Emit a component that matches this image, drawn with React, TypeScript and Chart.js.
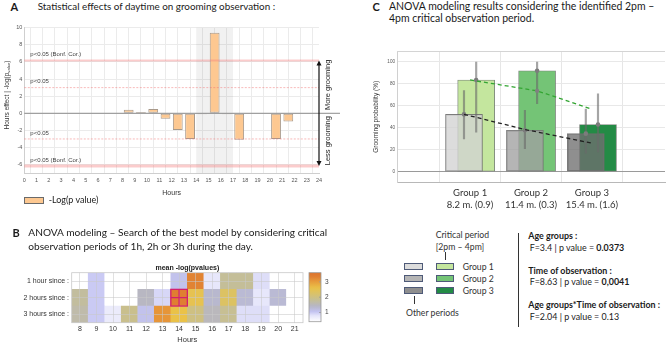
import React, { useEffect, useRef } from "react";
import { Chart, registerables } from "chart.js";

Chart.register(...registerables);

const SANS = '"Liberation Sans", Arial, sans-serif';
const TITLE = 'Lato, "Open Sans", sans-serif';

// ---------- A: hour-by-hour effect on grooming ----------
const effectHours = [8.5, 9.5, 10.5, 11.5, 12.5, 13.5, 14.5, 15.5, 16.5, 17.5, 18.5, 19.5, 20.5, 21.5];
const effectValues = [0.4, 0.15, 0.5, -0.65, -1.95, -3.0, -0.1, 9.4, -0.1, -3.1, 0, 0, -3.0, -0.95];
const hourTicks = [0, 1, 2, 3, 4, 5, 6, 7, 8, 9, 10, 11, 12, 13, 14, 15, 16, 17, 18, 19, 20, 21, 22, 23, 24];
const effectTicks = [-6, -4, -2, 0, 2, 4, 6, 8, 10];
const thresholdLevels = [3.0, 6.17];
const thresholdLabels = ["p<0.05", "p<0.05 (Bonf. Cor.)"];
const criticalWindow = [14, 17];

// ---------- B: mean -log(p) by window length and start hour ----------
const heatHours = ["8", "9", "10", "11", "12", "13", "14", "15", "16", "17", "18", "19", "20", "21"];
const heatRows = ["1 hour since :", "2 hours since :", "3 hours since :"];
const oneHour = [null, 1.0, null, null, null, null, 1.1, 3.3, 0.75, 1.8, 1.8, 0.85, null, null];
const twoHours = [1.75, 1.0, null, null, 1.45, 0.9, 3.35, 2.5, 1.35, 2.3, 1.3, 0.75, 1.3, null];
const threeHours = [1.65, 1.0, 0.7, 1.9, 1.1, 3.1, 2.6, 2.0, 1.5, 1.85, 0.85, 0.85, null, null];
const heatValues = [oneHour, twoHours, threeHours];
const highlightCell = { hour: "14", row: 1 };
const colorbarRange = [0.4, 3.6];
const colorbarTicks = [1, 2, 3];
const heatColorStops: [number, number[]][] = [
  [0.4, [255, 255, 255]],
  [0.8, [228, 228, 250]],
  [1.05, [196, 196, 242]],
  [1.4, [182, 182, 200]],
  [1.8, [196, 190, 152]],
  [2.2, [216, 194, 108]],
  [2.6, [234, 194, 72]],
  [3.0, [232, 158, 60]],
  [3.35, [224, 126, 50]],
  [3.6, [222, 116, 44]],
];

// ---------- C: grooming probability per age group ----------
const groupPositions = [1, 2, 3];
const groupNames = ["Group 1", "Group 2", "Group 3"];
const groupAges = ["8.2 m. (0.9)", "11.4 m. (0.3)", "15.4 m. (1.6)"];
const otherMeans = [52.3, 37.8, 34.7];
const otherLow = [30, 21, 17];
const otherHigh = [74, 56, 57];
const criticalMeans = [83.6, 92, 43];
const criticalLow = [36, 62, 18];
const criticalHigh = [100, 100, 71];
const otherTrendX = [0.9, 1.9, 3];
const otherTrendY = [52.3, 38.5, 26];
const criticalTrendX = [1, 2.1, 3];
const criticalTrendY = [83.6, 73.7, 57];
const probabilityTicks = [0, 20, 40, 60, 80, 100];
const barShift = 0.1;
const otherColors = ["rgba(210,210,210,0.78)", "rgba(160,160,160,0.78)", "rgba(112,112,112,0.78)"];
const criticalColors = ["#c4e69e", "#74c476", "#238b45"];

// ---------- helpers ----------
let measureCtx: CanvasRenderingContext2D | null = null;
function fit(text: string, width: number, weight = 400, family = TITLE) {
  if (!measureCtx) measureCtx = document.createElement("canvas").getContext("2d");
  measureCtx!.font = `${weight} 100px ${family}`;
  return (100 * width) / measureCtx!.measureText(text).width;
}

function heatColor(v: number | null): string {
  if (v == null) return "#ffffff";
  const s = heatColorStops;
  const rgb = (c: number[]) => `rgb(${c.map((n) => Math.round(n)).join(",")})`;
  if (v <= s[0][0]) return rgb(s[0][1]);
  for (let i = 1; i < s.length; i++) {
    if (v <= s[i][0]) {
      const t = (v - s[i - 1][0]) / (s[i][0] - s[i - 1][0]);
      return rgb(s[i - 1][1].map((c, k) => c + (s[i][1][k] - c) * t));
    }
  }
  return rgb(s[s.length - 1][1]);
}

function fixedTicks(values: number[]) {
  return (scale: any) => {
    scale.ticks = values.map((value) => ({ value }));
  };
}

// ---------- plugins ----------
const hourEffectOverlay = {
  id: "hourEffectOverlay",
  beforeDatasetsDraw(chart: any) {
    const { ctx, chartArea: ca, scales } = chart;
    const x0 = scales.x.getPixelForValue(criticalWindow[0]);
    const x1 = scales.x.getPixelForValue(criticalWindow[1]);
    ctx.save();
    ctx.fillStyle = "rgba(0,0,0,0.055)";
    ctx.fillRect(x0, ca.top, x1 - x0, ca.bottom - ca.top);
    ctx.restore();
  },
  afterDatasetsDraw(chart: any) {
    const { ctx, chartArea: ca, scales, width } = chart;
    const { x, y } = scales;
    ctx.save();
    thresholdLevels.forEach((lvl, i) => {
      const bonf = i === 1;
      [lvl, -lvl].forEach((v) => {
        const py = y.getPixelForValue(v);
        ctx.beginPath();
        ctx.setLineDash(bonf ? [] : [2, 1.5]);
        ctx.lineWidth = bonf ? (v < 0 ? 3 : 2) : 0.8;
        ctx.strokeStyle = bonf ? "rgba(245,120,120,0.38)" : "rgba(240,110,110,0.6)";
        ctx.moveTo(ca.left, py);
        ctx.lineTo(ca.right, py);
        ctx.stroke();
        ctx.setLineDash([]);
        ctx.fillStyle = "#444";
        ctx.font = `6px ${SANS}`;
        ctx.textAlign = "left";
        ctx.textBaseline = "middle";
        ctx.fillText(thresholdLabels[i], ca.left + 6, py - 6);
      });
    });
    // zero line, running out to the side annotations
    const y0 = y.getPixelForValue(0);
    ctx.strokeStyle = "#8c8c8c";
    ctx.lineWidth = 1;
    ctx.beginPath();
    ctx.moveTo(ca.left, y0);
    ctx.lineTo(width, y0);
    ctx.stroke();
    // double-headed arrow between the Bonferroni limits
    const ax = x.getPixelForValue(24);
    const yTop = y.getPixelForValue(thresholdLevels[1]);
    const yBot = y.getPixelForValue(-thresholdLevels[1]);
    ctx.strokeStyle = "#111";
    ctx.fillStyle = "#111";
    ctx.lineWidth = 1.2;
    ctx.beginPath();
    ctx.moveTo(ax, yTop + 4);
    ctx.lineTo(ax, yBot - 4);
    ctx.stroke();
    ctx.beginPath();
    ctx.moveTo(ax, yTop);
    ctx.lineTo(ax - 2.5, yTop + 5);
    ctx.lineTo(ax + 2.5, yTop + 5);
    ctx.closePath();
    ctx.fill();
    ctx.beginPath();
    ctx.moveTo(ax, yBot);
    ctx.lineTo(ax - 2.5, yBot - 5);
    ctx.lineTo(ax + 2.5, yBot - 5);
    ctx.closePath();
    ctx.fill();
    ctx.font = `7.5px ${SANS}`;
    ctx.fillStyle = "#222";
    ctx.textAlign = "center";
    ctx.textBaseline = "middle";
    [
      ["More grooming", (y0 + yTop) / 2 - 2],
      ["Less grooming", (y0 + yBot) / 2 + 1],
    ].forEach(([t, cy]) => {
      ctx.save();
      ctx.translate(ax + 8.5, cy as number);
      ctx.rotate(-Math.PI / 2);
      ctx.fillText(t as string, 0, 0);
      ctx.restore();
    });
    ctx.restore();
  },
  afterDraw(chart: any) {
    const { ctx } = chart;
    ctx.save();
    ctx.translate(7.5, 77);
    ctx.rotate(-Math.PI / 2);
    ctx.fillStyle = "#333";
    ctx.textBaseline = "middle";
    ctx.textAlign = "left";
    const main = "Hours effect | -log(p";
    const sub = "value";
    ctx.font = `6.5px ${SANS}`;
    const w1 = ctx.measureText(main).width;
    ctx.font = `4.2px ${SANS}`;
    const w2 = ctx.measureText(sub).width;
    ctx.font = `6.5px ${SANS}`;
    const w3 = ctx.measureText(")").width;
    let px = -(w1 + w2 + w3) / 2;
    ctx.fillText(main, px, 0);
    px += w1;
    ctx.font = `4.2px ${SANS}`;
    ctx.fillText(sub, px, 1.8);
    px += w2;
    ctx.font = `6.5px ${SANS}`;
    ctx.fillText(")", px, 0);
    ctx.restore();
  },
};

const heatmapOverlay = {
  id: "heatmapOverlay",
  afterDraw(chart: any) {
    const { ctx, chartArea: ca, scales } = chart;
    const { x, y } = scales;
    ctx.save();
    ctx.strokeStyle = "#c8c8c8";
    ctx.lineWidth = 0.8;
    ctx.strokeRect(ca.left, ca.top, ca.right - ca.left, ca.bottom - ca.top);
    ctx.font = `bold 7px ${SANS}`;
    ctx.fillStyle = "#222";
    ctx.textAlign = "center";
    ctx.textBaseline = "middle";
    ctx.fillText("mean -log(pvalues)", (ca.left + ca.right) / 2, ca.top - 4.7);
    // best window
    const col = heatHours.indexOf(highlightCell.hour);
    const half = (x.getPixelForValue(1) - x.getPixelForValue(0)) / 2;
    const cx = x.getPixelForValue(col);
    const rowBase = heatRows.length - 1 - highlightCell.row;
    const yT = y.getPixelForValue(rowBase + 1);
    const yB = y.getPixelForValue(rowBase);
    ctx.strokeStyle = "#d4206f";
    ctx.lineWidth = 1.3;
    ctx.strokeRect(cx - half, yT, 2 * half, yB - yT);
    ctx.beginPath();
    ctx.moveTo(cx, yT);
    ctx.lineTo(cx, yB);
    ctx.moveTo(cx - half, (yT + yB) / 2);
    ctx.lineTo(cx + half, (yT + yB) / 2);
    ctx.stroke();
    // colour bar
    const bx = ca.right + 6;
    const bw = 12;
    const top = ca.top;
    const bottom = ca.bottom - 1;
    const [lo, hi] = colorbarRange;
    const grad = ctx.createLinearGradient(0, bottom, 0, top);
    for (let i = 0; i <= 24; i++) {
      const t = i / 24;
      grad.addColorStop(t, heatColor(lo + t * (hi - lo)));
    }
    ctx.fillStyle = grad;
    ctx.fillRect(bx, top, bw, bottom - top);
    ctx.strokeStyle = "#9a9a9a";
    ctx.lineWidth = 0.8;
    ctx.strokeRect(bx, top, bw, bottom - top);
    ctx.fillStyle = "#444";
    ctx.font = `6.5px ${SANS}`;
    ctx.textAlign = "left";
    colorbarTicks.forEach((v) => {
      const py = bottom - ((v - lo) / (hi - lo)) * (bottom - top);
      ctx.strokeStyle = "#9a9a9a";
      ctx.beginPath();
      ctx.moveTo(bx + bw - 2, py);
      ctx.lineTo(bx + bw, py);
      ctx.stroke();
      ctx.fillText(String(v), bx + bw + 4, py);
    });
    ctx.restore();
  },
};

const probabilityFrame = {
  id: "probabilityFrame",
  afterDraw(chart: any) {
    const { ctx, chartArea: ca } = chart;
    ctx.save();
    ctx.strokeStyle = "#d4d4d4";
    ctx.lineWidth = 1;
    ctx.beginPath();
    ctx.moveTo(ca.left, ca.top + 0.5);
    ctx.lineTo(ca.right, ca.top + 0.5);
    ctx.stroke();
    ctx.restore();
  },
};

// ---------- chart configs ----------
function hourEffectConfig(): any {
  return {
    type: "bar",
    data: {
      datasets: [
        {
          label: "-Log(p value)",
          data: effectHours.map((h, i) => ({ x: h, y: effectValues[i] })),
          backgroundColor: "#fdc891",
          borderColor: "#a8998a",
          borderWidth: 1,
          borderSkipped: false,
          barPercentage: 0.8,
          categoryPercentage: 1,
        },
      ],
    },
    options: {
      responsive: false,
      animation: false,
      events: [],
      layout: { padding: { left: 0, right: 21, top: 9.7, bottom: 0 } },
      plugins: { legend: { display: false }, tooltip: { enabled: false } },
      scales: {
        x: {
          type: "linear",
          min: 0,
          max: 24,
          offset: false,
          afterBuildTicks: fixedTicks(hourTicks),
          afterFit: (s: any) => {
            s.height = 26.8;
          },
          grid: { color: "#ebebeb", drawTicks: false },
          border: { color: "#cfcfcf" },
          ticks: { font: { family: SANS, size: 5.5 }, color: "#555", padding: 3.5, maxRotation: 0, autoSkip: false },
          title: { display: true, text: "Hours", font: { family: SANS, size: 7 }, color: "#333", padding: { top: 0, bottom: 3 } },
        },
        y: {
          min: -7,
          max: 10,
          afterBuildTicks: fixedTicks(effectTicks),
          afterFit: (s: any) => {
            s.width = 24.3;
          },
          grid: { color: "#ebebeb", drawTicks: false },
          border: { color: "#cfcfcf" },
          ticks: { font: { family: SANS, size: 5.5 }, color: "#555", padding: 2 },
        },
      },
    },
    plugins: [hourEffectOverlay],
  };
}

function heatmapConfig(): any {
  const datasets = heatValues
    .map((vals, r) => ({
      label: heatRows[r],
      data: vals.map(() => 1),
      backgroundColor: vals.map((v) => heatColor(v)),
      borderWidth: 0,
      barPercentage: 1,
      categoryPercentage: 1,
    }))
    .reverse();
  return {
    type: "bar",
    data: { labels: heatHours, datasets },
    options: {
      responsive: false,
      animation: false,
      events: [],
      layout: { padding: { left: 0, right: 37, top: 14.7, bottom: 0 } },
      plugins: { legend: { display: false }, tooltip: { enabled: false } },
      scales: {
        x: {
          stacked: true,
          afterFit: (s: any) => {
            s.height = 25.3;
          },
          grid: { offset: false, z: 1, color: "rgba(200,200,200,0.55)", drawTicks: false },
          border: { display: false },
          ticks: { font: { family: SANS, size: 7 }, color: "#333", padding: 2.2 },
          title: { display: true, text: "Hours", font: { family: SANS, size: 7.5 }, color: "#333", padding: { top: 0, bottom: 3.5 } },
        },
        y: {
          stacked: true,
          min: 0,
          max: 3,
          afterBuildTicks: fixedTicks([0.5, 1.5, 2.5]),
          afterFit: (s: any) => {
            s.width = 71.7;
          },
          grid: { z: 1, color: "rgba(200,200,200,0.55)", drawTicks: false },
          border: { display: false },
          ticks: {
            font: { family: SANS, size: 7 },
            color: "#333",
            padding: 2.7,
            callback: (v: number) => heatRows[heatRows.length - 1 - Math.floor(v)],
          },
        },
      },
    },
    plugins: [heatmapOverlay],
  };
}

function probabilityConfig(): any {
  const labelSize = fit("8.2 m. (0.9)", 46.7);
  return {
    type: "bar",
    data: {
      datasets: [
        {
          type: "line",
          label: "other trend",
          data: otherTrendX.map((x, i) => ({ x, y: otherTrendY[i] })),
          borderColor: "#222",
          borderDash: [4, 3],
          borderWidth: 1.3,
          pointRadius: 0,
          order: 0,
        },
        {
          type: "line",
          label: "critical trend",
          data: criticalTrendX.map((x, i) => ({ x, y: criticalTrendY[i] })),
          borderColor: "#33a532",
          borderDash: [4, 3],
          borderWidth: 1.3,
          pointRadius: [0, 2.2, 0],
          pointBackgroundColor: "#808080",
          pointBorderWidth: 0,
          order: 0,
        },
        {
          type: "scatter",
          label: "means",
          data: [
            ...groupPositions.map((g, i) => ({ x: g - barShift, y: otherMeans[i] })),
            ...groupPositions.map((g, i) => ({ x: g + barShift, y: criticalMeans[i] })),
          ],
          backgroundColor: "#7c7c7c",
          borderWidth: 0,
          pointRadius: 2.3,
          order: 1,
        },
        {
          label: "other ci",
          data: groupPositions.map((g, i) => ({ x: g - barShift, y: [otherLow[i], otherHigh[i]] })),
          backgroundColor: "rgba(105,105,105,0.6)",
          borderWidth: 0,
          barThickness: 1.5,
          grouped: false,
          order: 2,
        },
        {
          label: "critical ci",
          data: groupPositions.map((g, i) => ({ x: g + barShift, y: [criticalLow[i], criticalHigh[i]] })),
          backgroundColor: "rgba(105,105,105,0.6)",
          borderWidth: 0,
          barThickness: 1.5,
          grouped: false,
          order: 2,
        },
        {
          label: "Other periods",
          data: groupPositions.map((g, i) => ({ x: g - barShift, y: otherMeans[i] })),
          backgroundColor: otherColors,
          borderColor: "rgba(110,110,110,0.9)",
          borderWidth: 0.9,
          borderSkipped: false,
          barThickness: 37,
          grouped: false,
          order: 3,
        },
        {
          label: "Critical period",
          data: groupPositions.map((g, i) => ({ x: g + barShift, y: criticalMeans[i] })),
          backgroundColor: criticalColors,
          borderColor: "rgba(110,120,110,0.9)",
          borderWidth: 0.9,
          borderSkipped: false,
          barThickness: 37,
          grouped: false,
          order: 4,
        },
      ],
    },
    options: {
      responsive: false,
      animation: false,
      events: [],
      layout: { padding: { left: 0, right: 1, top: 11, bottom: 0 } },
      plugins: { legend: { display: false }, tooltip: { enabled: false } },
      scales: {
        x: {
          type: "linear",
          min: -0.2,
          max: 4.2,
          offset: false,
          afterBuildTicks: fixedTicks(groupPositions),
          afterFit: (s: any) => {
            s.height = 32.3;
          },
          grid: { color: "#e6e6e6", drawTicks: false },
          border: { color: "#b8b8b8" },
          ticks: {
            font: { family: TITLE, size: labelSize, lineHeight: 1.3 },
            color: "#333",
            padding: 4,
            maxRotation: 0,
            autoSkip: false,
            callback: (v: number) => {
              const i = groupPositions.indexOf(v);
              return [groupNames[i], groupAges[i]];
            },
          },
        },
        y: {
          min: -10,
          max: 110,
          afterBuildTicks: fixedTicks(probabilityTicks),
          afterFit: (s: any) => {
            s.width = 57;
          },
          grid: {
            drawTicks: false,
            color: (c: any) => (c.tick && c.tick.value === 0 ? "#9a9a9a" : "#e8e8e8"),
          },
          border: { color: "#d0d0d0" },
          ticks: { font: { family: SANS, size: 4.6 }, color: "#555", padding: 2 },
          title: {
            display: true,
            text: "Grooming probability (%)",
            font: { family: SANS, size: 6.5 },
            color: "#333",
            padding: { top: 32, bottom: 0 },
          },
        },
      },
    },
    plugins: [probabilityFrame],
  };
}

// ---------- components ----------
function ChartBox({ left, top, width, height, build }: { left: number; top: number; width: number; height: number; build: () => any }) {
  const ref = useRef<HTMLCanvasElement | null>(null);
  useEffect(() => {
    if (!ref.current) return;
    const chart = new Chart(ref.current, build());
    return () => chart.destroy();
  }, [build]);
  return <canvas ref={ref} width={width} height={height} style={{ position: "absolute", left, top, width, height }} />;
}

function Txt({
  x,
  y,
  size,
  weight = 400,
  family = TITLE,
  color = "#1a1a1a",
  children,
}: {
  x: number;
  y: number;
  size: number;
  weight?: number;
  family?: string;
  color?: string;
  children: React.ReactNode;
}) {
  return (
    <div
      style={{
        position: "absolute",
        left: x,
        top: y,
        transform: "translateY(-50%)",
        fontSize: size,
        fontWeight: weight,
        fontFamily: family,
        lineHeight: 1.2,
        whiteSpace: "nowrap",
        color,
      }}
    >
      {children}
    </div>
  );
}

function Box({ x, y, w, h, fill, border }: { x: number; y: number; w: number; h: number; fill: string; border: string }) {
  return <div style={{ position: "absolute", left: x, top: y, width: w, height: h, background: fill, border: `1px solid ${border}`, boxSizing: "border-box" }} />;
}

function VLine({ x, y1, y2, color = "#333" }: { x: number; y1: number; y2: number; color?: string }) {
  return <div style={{ position: "absolute", left: x, top: y1, width: 1, height: y2 - y1, background: color }} />;
}

export default function App() {
  const titleA = "Statistical effects of daytime on grooming observation :";
  const titleB1 = "ANOVA modeling \u2013 Search of the best model by considering critical";
  const titleB2 = "observation periods of 1h, 2h or 3h during the day.";
  const titleC1 = "ANOVA modeling results considering the identified 2pm \u2013";
  const titleC2 = "4pm critical observation period.";
  const sA = fit(titleA, 238);
  const sB = fit(titleB1, 300);
  const sC = fit(titleC1, 266);
  const sStats = fit("Age groups*Time of observation :", 132, 700);
  const sLegC = fit("Other periods", 53);
  const sLegA = fit("-Log(p value)", 50);

  return (
    <div style={{ position: "absolute", left: 0, top: 0, width: 669, height: 343, overflow: "hidden", background: "#fff", fontFamily: TITLE }}>
      {/* A */}
      <Txt x={10.5} y={7} size={11} weight={700}>A</Txt>
      <Txt x={37.7} y={6.5} size={sA}>{titleA}</Txt>
      <ChartBox left={0} top={18} width={340} height={182} build={hourEffectConfig} />
      <Box x={24.3} y={196.7} w={20} h={7.5} fill="#fdc891" border="#6a6a6a" />
      <Txt x={48.7} y={200.3} size={sLegA}>-Log(p value)</Txt>

      {/* B */}
      <Txt x={12.5} y={232.7} size={11} weight={700}>B</Txt>
      <Txt x={28.3} y={232.3} size={sB}>{titleB1}</Txt>
      <Txt x={28.3} y={245.5} size={sB}>{titleB2}</Txt>
      <ChartBox left={0} top={258} width={340} height={90} build={heatmapConfig} />

      {/* C */}
      <Txt x={372.5} y={7} size={11} weight={700}>C</Txt>
      <Txt x={389} y={6} size={sC}>{titleC1}</Txt>
      <Txt x={389} y={17.8} size={sC}>{titleC2}</Txt>
      <ChartBox left={340} top={40} width={329} height={175} build={probabilityConfig} />

      {/* C legend */}
      <Txt x={435.7} y={235.3} size={sLegC} color="#333">Critical period</Txt>
      <Txt x={435.7} y={246.7} size={sLegC} color="#333">[2pm &ndash; 4pm]</Txt>
      <VLine x={444.5} y1={251.5} y2={260} />
      {groupNames.map((g, i) => (
        <React.Fragment key={g}>
          <Box x={404.3} y={262.7 + i * 12} w={19} h={7.5} fill={otherColors[i]} border="#4e5a78" />
          <Box x={435.7} y={262.7 + i * 12} w={18.6} h={7.5} fill={criticalColors[i]} border="#4e5a78" />
          <Txt x={462.7} y={266.5 + i * 12} size={sLegC} color="#333">{g}</Txt>
        </React.Fragment>
      ))}
      <VLine x={413.8} y1={296} y2={304} />
      <Txt x={406} y={312.7} size={sLegC} color="#333">Other periods</Txt>

      <VLine x={517.5} y1={233} y2={327} />

      {/* C statistics */}
      <Txt x={528.3} y={236} size={sStats} weight={700}>Age groups :</Txt>
      <Txt x={529.7} y={248} size={sStats}>
        F=3.4 | p value = <b>0.0373</b>
      </Txt>
      <Txt x={528.3} y={270.7} size={sStats} weight={700}>Time of observation :</Txt>
      <Txt x={529.7} y={282.3} size={sStats}>
        F=8.63 | p value = <b>0,0041</b>
      </Txt>
      <Txt x={528.3} y={305} size={sStats} weight={700}>Age groups*Time of observation :</Txt>
      <Txt x={529.7} y={316.7} size={sStats}>F=2.04 | p value = 0.13</Txt>
    </div>
  );
}
